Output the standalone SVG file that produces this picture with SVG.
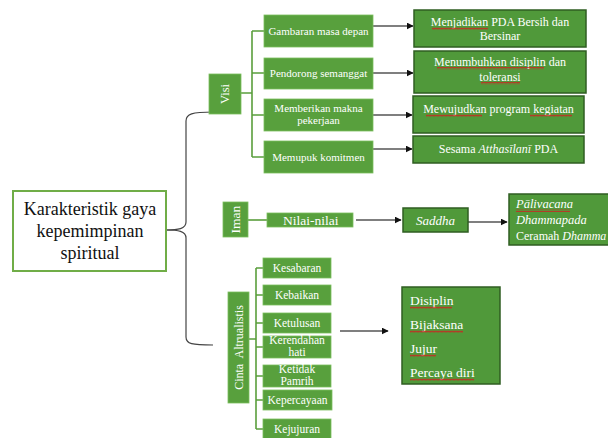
<svg xmlns="http://www.w3.org/2000/svg" width="608" height="438" viewBox="0 0 608 438">
<defs>
<marker id="arr" viewBox="0 0 10 10" refX="9" refY="5" markerWidth="7" markerHeight="7" markerUnits="userSpaceOnUse" orient="auto"><path d="M0,0 L10,5 L0,10 z" fill="#111"/></marker>
<pattern id="wavy" width="4" height="3" patternUnits="userSpaceOnUse"><path d="M0,2.5 L1,0.8 L2,2.5 L3,0.8 L4,2.5" fill="none" stroke="#d02020" stroke-width="0.8"/></pattern>
</defs>
<style>
.lb{fill:#58a03d;stroke:#7cbf5e;stroke-width:0.8}
.rb{fill:#50993a;stroke:#2f5e22;stroke-width:1.5}
.t{fill:#fff;}
.tc{text-anchor:middle}
.g{fill:none;stroke:#5a9e3c;stroke-width:1.6}
.k{fill:none;stroke:#444;stroke-width:1.2}
.a{fill:none;stroke:#555;stroke-width:1.3;marker-end:url(#arr)}
.w{fill:url(#wavy)}
</style>
<rect width="608" height="438" fill="#fff"/>
<g id="connectors">
<path class="k" d="M166,230 C178,230 186,229 186,222 L186,121 C186,114 192,112 213,112"/>
<path class="k" d="M166,230 C178,230 186,231 186,238 L186,337 C186,344 192,345 213,345"/>
<path class="g" d="M241,93 H252 M252,31 V157 M252,31 H264 M252,73 H264 M252,115 H264 M252,157 H264"/>
<path class="a" d="M373,26 H413"/>
<path class="a" d="M373,73 H413"/>
<path class="a" d="M373,115 H412"/>
<path class="a" d="M373,149 H412"/>
<path class="g" d="M248,220 H267"/>
<path class="a" d="M356,220 H401"/>
<path class="a" d="M468,222 H507"/>
<path class="g" d="M249,339 H256 M256,268 V429 M256,268 H263 M256,295 H263 M256,323 H263 M256,347 H263 M256,376 H263 M256,400 H263 M256,429 H263"/>
<path class="a" d="M340,331 H388"/>
</g>
<g font-family="'Liberation Serif', 'Tinos', 'Noto Serif', 'DejaVu Serif', serif">
<g id="root">
<rect x="13" y="191" width="153" height="80" fill="#fff" stroke="#70ad47" stroke-width="2"/>
<text class="tc" x="90" y="215" font-size="18" fill="#111">Karakteristik gaya</text>
<text class="tc" x="90" y="237" font-size="18" fill="#111">kepemimpinan</text>
<text class="tc" x="90" y="259" font-size="18" fill="#111">spiritual</text>
</g>
<g id="visi">
<rect class="lb" x="209" y="74" width="32" height="40"/>
<text class="t tc" font-size="12.5" transform="translate(229,94) rotate(-90)">Visi</text>
</g>
<g id="v1"><rect class="lb" x="264" y="15" width="109" height="32"/><text class="t tc" x="318.5" y="35" font-size="11">Gambaran masa depan</text></g>
<g id="v2"><rect class="lb" x="264" y="58" width="109" height="31"/><text class="t tc" x="318.5" y="77" font-size="11">Pendorong semanggat</text></g>
<g id="v3"><rect class="lb" x="264" y="99" width="109" height="32"/><text class="t tc" x="318.5" y="112" font-size="11">Memberikan makna</text><text class="t tc" x="318.5" y="124" font-size="11">pekerjaan</text></g>
<g id="v4"><rect class="lb" x="264" y="141" width="109" height="32"/><text class="t tc" x="318.5" y="161" font-size="11">Memupuk komitmen</text></g>
<g id="r1"><rect class="rb" x="414" y="10" width="172" height="37"/><text class="t tc" x="500" y="26" font-size="12">Menjadikan PDA Bersih dan</text><text class="t tc" x="500" y="40" font-size="12">Bersinar</text><rect class="w" x="432" y="27" width="56" height="3"/></g>
<g id="r2"><rect class="rb" x="414" y="51" width="172" height="42"/><text class="t tc" x="500" y="66" font-size="12">Menumbuhkan disiplin dan</text><text class="t tc" x="500" y="81" font-size="12">toleransi</text><rect class="w" x="437" y="67" width="107" height="3"/><rect class="w" x="481" y="82" width="39" height="3"/></g>
<g id="r3"><rect class="rb" x="413" y="96" width="171" height="37"/><text class="t tc" x="498.5" y="113" font-size="12">Mewujudkan program kegiatan</text><rect class="w" x="426" y="114" width="56" height="3"/><rect class="w" x="530" y="114" width="42" height="3"/></g>
<g id="r4"><rect class="rb" x="413" y="136" width="171" height="27"/><text class="t tc" x="498.5" y="153" font-size="12">Sesama <tspan font-style="italic">Atthasīlanī</tspan> PDA</text></g>
<g id="iman"><rect class="lb" x="223" y="202" width="25" height="35"/><text class="t tc" font-size="13.5" transform="translate(240,219.5) rotate(-90)">Iman</text></g>
<g id="nilai"><rect class="lb" x="267" y="213" width="86" height="14"/><text class="t" x="283" y="225" font-size="13.5">Nilai-nilai</text></g>
<g id="saddha"><rect class="rb" x="403" y="208" width="65" height="24"/><text class="t tc" x="435.5" y="225" font-size="13" font-style="italic">Saddha</text></g>
<g id="pali"><rect class="rb" x="509" y="194" width="106" height="51"/><text class="t" x="516" y="208" font-size="12.5" font-style="italic">Pālivacana</text><text class="t" x="516" y="224" font-size="12.5" font-style="italic">Dhammapada</text><text class="t" x="516" y="240" font-size="12">Ceramah <tspan font-style="italic">Dhamma</tspan></text><rect class="w" x="516" y="209" width="54" height="3"/></g>
<g id="cinta"><rect class="lb" x="228" y="292" width="21" height="111"/><text class="t tc" font-size="12" transform="translate(242.5,347.5) rotate(-90)" xml:space="preserve">Cinta  Altrualistis</text></g>
<g id="c1"><rect class="lb" x="263" y="258" width="68" height="20"/><text class="t tc" x="297" y="272" font-size="11.5">Kesabaran</text></g>
<g id="c2"><rect class="lb" x="263" y="285" width="68" height="20"/><text class="t tc" x="297" y="299" font-size="11.5">Kebaikan</text></g>
<g id="c3"><rect class="lb" x="263" y="313" width="68" height="20"/><text class="t tc" x="297" y="327" font-size="11.5">Ketulusan</text></g>
<g id="c4"><rect class="lb" x="263" y="336" width="68" height="22"/><text class="t tc" x="297" y="344" font-size="11.5">Kerendahan</text><text class="t tc" x="297" y="356" font-size="11.5">hati</text></g>
<g id="c5"><rect class="lb" x="263" y="365" width="68" height="22"/><text class="t tc" x="297" y="373" font-size="11.5">Ketidak</text><text class="t tc" x="297" y="385" font-size="11.5">Pamrih</text></g>
<g id="c6"><rect class="lb" x="263" y="390" width="69" height="20"/><text class="t tc" x="297.5" y="404" font-size="11.5">Kepercayaan</text></g>
<g id="c7"><rect class="lb" x="263" y="419" width="68" height="20"/><text class="t tc" x="297" y="433" font-size="11.5">Kejujuran</text></g>
<g id="nilai2"><rect class="rb" x="402" y="287" width="98" height="97"/><text class="t" x="410" y="305" font-size="13.5">Disiplin</text><text class="t" x="410" y="329" font-size="13.5">Bijaksana</text><text class="t" x="410" y="353" font-size="13.5">Jujur</text><text class="t" x="410" y="377" font-size="13.5">Percaya diri</text><rect class="w" x="410" y="306" width="42" height="3"/><rect class="w" x="410" y="330" width="53" height="3"/><rect class="w" x="410" y="354" width="26" height="3"/><rect class="w" x="410" y="378" width="64" height="3"/></g>
</g>
</svg>
